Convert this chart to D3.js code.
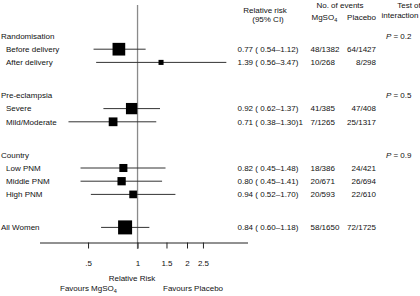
<!DOCTYPE html>
<html>
<head>
<meta charset="utf-8">
<script src="https://cdn.jsdelivr.net/npm/d3@7"></script>
<style>
  body { margin: 0; background: #fff; }
  text { font-family: "Liberation Sans", Arial, sans-serif; font-size: 8px; fill: #111; }
</style>
</head>
<body>
<svg id="chart" width="420" height="296"></svg>
<script>
// groups and their subgroups
let groupNames = ["Randomisation", "Pre-eclampsia", "Country"];
let pValues = ["0.2", "0.5", "0.9"];
let subgroups = [
    ["Before delivery", "After delivery"],
    ["Severe", "Mild/Moderate"],
    ["Low PNM", "Middle PNM", "High PNM"]
];
let totalLabel = "All Women";

// one entry per subgroup row, then the total row last
let rr = [0.77, 1.39, 0.92, 0.71, 0.82, 0.80, 0.94, 0.84];
let ciLow = [0.54, 0.56, 0.62, 0.38, 0.45, 0.45, 0.52, 0.60];
let ciHigh = [1.12, 3.47, 1.37, 1.30, 1.48, 1.41, 1.70, 1.18];
let ciText = ["0.77 ( 0.54\u20131.12)", "1.39 ( 0.56\u20133.47)", "0.92 ( 0.62\u20131.37)",
    "0.71 ( 0.38\u20131.30)1", "0.82 ( 0.45\u20131.48)", "0.80 ( 0.45\u20131.41)",
    "0.94 ( 0.52\u20131.70)", "0.84 ( 0.60\u20131.18)"];
let mgEvents = ["48/1382", "10/268", "41/385", "7/1265", "18/386", "20/671", "20/593", "58/1650"];
let placeboEvents = ["64/1427", "8/298", "47/408", "25/1317", "24/421", "26/694", "22/610", "72/1725"];
let weights = [82, 13, 65, 39, 33, 35, 30, 100]; // box area, total = 100

let tickValues = [0.5, 1, 1.5, 2, 2.5];
let tickLabels = [".5", "1", "1.5", "2", "2.5"];

let svg = d3.select("#chart");

// build rows: header rows + subgroup rows, with a gap between groups
let rows = [];
let slot = 0;
let k = 0;
for (let g = 0; g < groupNames.length; g++) {
    rows.push({type: "header", label: groupNames[g], p: pValues[g], slot: slot});
    slot += 1;
    for (let s = 0; s < subgroups[g].length; s++) {
        rows.push({type: "item", label: subgroups[g][s], i: k, slot: slot});
        k++;
        slot += 1;
    }
    slot += 1.5;
}
rows.push({type: "total", label: totalLabel, i: k, slot: slot});

let yScale = d3.scaleLinear().domain([0, 1]).range([36, 49.2]);
let xScale = d3.scaleLog().domain([0.255, 4.7]).range([40, 248]);
let sizeScale = d3.scaleSqrt().domain([0, 100]).range([0, 14]);
let axisY = 242.5;

// left labels
svg.selectAll(".label")
    .data(rows)
    .enter()
    .append("text")
    .attr("class", "label")
    .attr("x", (d) => d.type === "item" ? 6 : 1)
    .attr("y", (d) => yScale(d.slot))
    .attr("dy", "0.35em")
    .text((d) => d.label);

// reference line at 1
svg.append("line")
    .attr("x1", xScale(1)).attr("x2", xScale(1))
    .attr("y1", 5).attr("y2", axisY + 6.5)
    .attr("stroke", "#8a8a8a")
    .attr("stroke-width", 1.3);

let dataRows = rows.filter((d) => d.type !== "header");

// confidence intervals
svg.selectAll(".ci")
    .data(dataRows)
    .enter()
    .append("line")
    .attr("class", "ci")
    .attr("x1", (d) => xScale(ciLow[d.i]))
    .attr("x2", (d) => xScale(ciHigh[d.i]))
    .attr("y1", (d) => yScale(d.slot))
    .attr("y2", (d) => yScale(d.slot))
    .attr("stroke", "#333")
    .attr("stroke-width", 1);

// boxes
svg.selectAll(".box")
    .data(dataRows)
    .enter()
    .append("rect")
    .attr("class", "box")
    .attr("x", (d) => xScale(rr[d.i]) - sizeScale(weights[d.i]) / 2)
    .attr("y", (d) => yScale(d.slot) - sizeScale(weights[d.i]) / 2)
    .attr("width", (d) => sizeScale(weights[d.i]))
    .attr("height", (d) => sizeScale(weights[d.i]))
    .attr("fill", "#000");

// x axis
let xAxis = d3.axisBottom(xScale)
    .tickValues(tickValues)
    .tickFormat((d, i) => tickLabels[i])
    .tickSize(6)
    .tickPadding(12);

let ax = svg.append("g")
    .attr("transform", "translate(0," + axisY + ")")
    .call(xAxis);
ax.select(".domain").attr("d", "M40,0.5H248").attr("stroke", "#222");
ax.selectAll(".tick line").attr("stroke", "#222");
ax.selectAll(".tick text")
    .attr("font-family", null)
    .attr("font-size", null)
    .attr("fill", null)
    .style("font-size", "8px");

svg.append("text")
    .attr("x", 132).attr("y", 278).attr("dy", "0.35em")
    .attr("text-anchor", "middle")
    .text("Relative Risk");

let fav = svg.append("text")
    .attr("x", 60).attr("y", 288.5).attr("dy", "0.35em");
fav.append("tspan").text("Favours MgSO");
fav.append("tspan").attr("dy", 2).style("font-size", "5.5px").text("4");

svg.append("text")
    .attr("x", 163).attr("y", 288.5).attr("dy", "0.35em")
    .text("Favours Placebo");

// column headers
svg.append("text").attr("x", 265).attr("y", 10.5).attr("dy", "0.35em")
    .attr("text-anchor", "middle").text("Relative risk");
svg.append("text").attr("x", 268).attr("y", 19.5).attr("dy", "0.35em")
    .attr("text-anchor", "middle").text("(95% CI)");
svg.append("text").attr("x", 340).attr("y", 5.5).attr("dy", "0.35em")
    .attr("text-anchor", "middle").text("No. of events");
let mgHead = svg.append("text").attr("x", 311.5).attr("y", 17).attr("dy", "0.35em");
mgHead.append("tspan").text("MgSO");
mgHead.append("tspan").attr("dy", 2).style("font-size", "5.5px").text("4");
svg.append("text").attr("x", 376).attr("y", 17.5).attr("dy", "0.35em")
    .attr("text-anchor", "end").text("Placebo");
svg.append("text").attr("x", 409).attr("y", 5.5).attr("dy", "0.35em")
    .attr("text-anchor", "middle").text("Test of");
svg.append("text").attr("x", 418.5).attr("y", 15).attr("dy", "0.35em")
    .attr("text-anchor", "end").text("interaction");

// right columns
svg.selectAll(".citext")
    .data(dataRows)
    .enter()
    .append("text")
    .attr("class", "citext")
    .attr("x", 237.5)
    .attr("y", (d) => yScale(d.slot))
    .attr("dy", "0.35em")
    .text((d) => ciText[d.i]);

svg.selectAll(".mg")
    .data(dataRows)
    .enter()
    .append("text")
    .attr("class", "mg")
    .attr("x", 310.5)
    .attr("y", (d) => yScale(d.slot))
    .attr("dy", "0.35em")
    .text((d) => mgEvents[d.i]);

svg.selectAll(".pl")
    .data(dataRows)
    .enter()
    .append("text")
    .attr("class", "pl")
    .attr("x", 376)
    .attr("y", (d) => yScale(d.slot))
    .attr("dy", "0.35em")
    .attr("text-anchor", "end")
    .text((d) => placeboEvents[d.i]);

let pText = svg.selectAll(".pval")
    .data(rows.filter((d) => d.type === "header"))
    .enter()
    .append("text")
    .attr("class", "pval")
    .attr("x", 411.5)
    .attr("y", (d) => yScale(d.slot))
    .attr("dy", "0.35em")
    .attr("text-anchor", "end");
pText.append("tspan").style("font-style", "italic").text("P");
pText.append("tspan").text((d) => " = " + d.p);
</script>
</body>
</html>
